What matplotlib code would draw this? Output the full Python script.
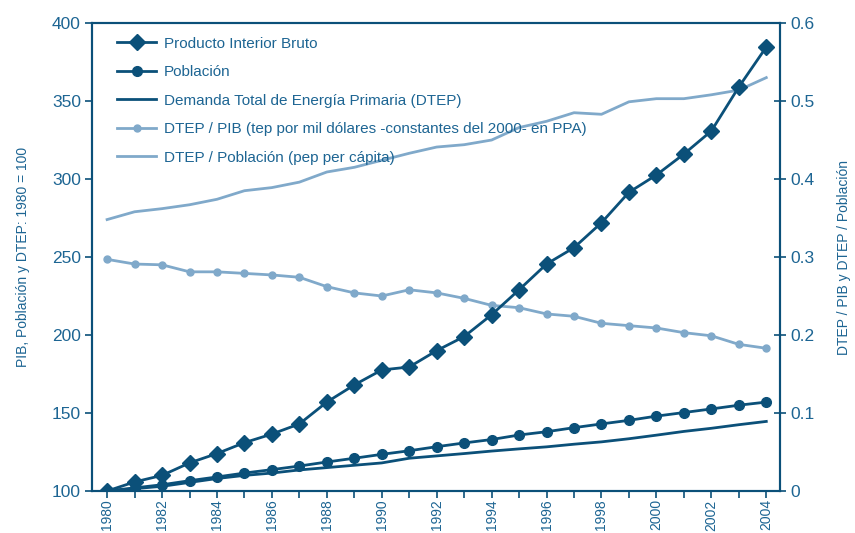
import matplotlib
matplotlib.use("Agg")
import matplotlib.pyplot as plt
import numpy as np

plt.rcParams["font.family"] = ["Liberation Sans", "DejaVu Sans"]

years = list(range(1980, 2005))

# left axis, index 1980 = 100
pib = [100, 105.8, 110, 118, 124, 131, 136.5, 143, 157, 168, 177.6, 179.5, 190, 199,
       213, 229, 245.5, 256, 272, 291.5, 302.6, 316, 330.8, 359, 384.6]
poblacion = [100, 102, 104, 106.6, 109, 111.5, 113.7, 116, 118.6, 121, 123.5, 125.8,
             128.4, 130.8, 133, 135.9, 138, 140.6, 143, 145.3, 148, 150.3, 152.6, 155, 157]
dtep = [100, 101.5, 103, 105.5, 108, 110, 111.5, 113.5, 115, 116.5, 118, 121, 122.5,
        124, 125.6, 127, 128.3, 130, 131.5, 133.5, 135.8, 138.2, 140.2, 142.5, 144.6]

# right axis
dtep_pib = [0.297, 0.291, 0.290, 0.281, 0.281, 0.279, 0.277, 0.274, 0.262, 0.254, 0.250,
            0.258, 0.254, 0.247, 0.238, 0.235, 0.227, 0.224, 0.215, 0.212, 0.209, 0.203,
            0.199, 0.188, 0.183]
dtep_pob = [0.348, 0.358, 0.362, 0.367, 0.374, 0.385, 0.389, 0.396, 0.409, 0.415, 0.424,
            0.433, 0.441, 0.444, 0.450, 0.466, 0.474, 0.485, 0.483, 0.499, 0.503, 0.503,
            0.508, 0.514, 0.530]

dark = "#0b5079"
light = "#80a9ca"
text_c = "#1d6593"

fig = plt.figure(figsize=(8.55, 5.33), dpi=100)
ax = fig.add_axes([0.1076, 0.0788, 0.8047, 0.878])
ax2 = ax.twinx()

ax2.plot(years, dtep_pib, color=light, lw=2, marker="o", ms=5,
         label="DTEP / PIB (tep por mil dólares -constantes del 2000- en PPA)")
ax2.plot(years, dtep_pob, color=light, lw=2,
         label="DTEP / Población (pep per cápita)")

ax.plot(years, pib, color=dark, lw=2, marker="D", ms=8, label="Producto Interior Bruto")
ax.plot(years, poblacion, color=dark, lw=2, marker="o", ms=7, label="Población")
ax.plot(years, dtep, color=dark, lw=2, label="Demanda Total de Energía Primaria (DTEP)")

# left axis lines drawn above the right ones
ax.set_zorder(ax2.get_zorder() + 1)
ax.patch.set_visible(False)

ax.set_xlim(1979.45, 2004.5)
ax.set_ylim(100, 400)
ax2.set_ylim(0, 0.6)

ax.set_yticks(np.arange(100, 401, 50))
ax2.set_yticks(np.arange(0, 0.61, 0.1))
ax2.set_yticklabels(["0", "0.1", "0.2", "0.3", "0.4", "0.5", "0.6"])
ax.set_xticks(years)
ax.set_xticklabels([str(y) if y % 2 == 0 else "" for y in years], rotation=90)

for a in (ax, ax2):
    for s in a.spines.values():
        s.set_color(dark)
        s.set_linewidth(1.5)

ax.tick_params(axis="y", direction="out", length=5, width=1.2, color=dark,
               labelcolor=text_c, labelsize=12.5, pad=3)
ax.tick_params(axis="x", direction="out", length=5, width=1.2, color=dark,
               labelcolor=text_c, labelsize=10, pad=1)
ax2.tick_params(axis="y", direction="inout", length=9, width=1.2, color=dark,
                labelcolor=text_c, labelsize=12.5, pad=3)

ax.set_ylabel("PIB, Población y DTEP: 1980 = 100", color=text_c, fontsize=10, labelpad=16)
ax2.set_ylabel("DTEP / PIB y DTEP / Población", color=text_c, fontsize=10, labelpad=16)

h1, lb1 = ax.get_legend_handles_labels()
h2, lb2 = ax2.get_legend_handles_labels()
ax.legend(h1 + h2, lb1 + lb2, loc="upper left", frameon=False, fontsize=11,
          handlelength=2.6, handletextpad=0.5, labelspacing=0.95,
          bbox_to_anchor=(0.016, 1.0), labelcolor=text_c)

fig.savefig("out.png", dpi=100)
